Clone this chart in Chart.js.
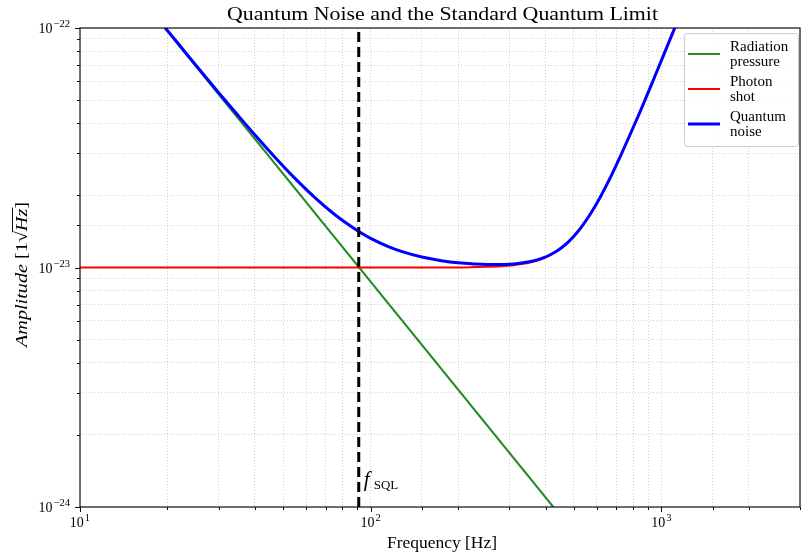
<!DOCTYPE html>
<html>
<head>
<meta charset="utf-8">
<script src="https://cdn.jsdelivr.net/npm/chart.js@4.4.0/dist/chart.umd.min.js"></script>
<style>
  html, body { margin: 0; padding: 0; background: #fff; }
</style>
</head>
<body>
<canvas id="chart" width="801" height="558"></canvas>
<script>
// 放射圧ノイズ (Hz, 振幅)
const rpFreq = [19.6, 425];
const rpAmp = [1e-22, 1e-24];

// 光子ショットノイズ
const shotFreq = [10, 200, 230, 250, 279, 310, 330, 362, 390, 415, 445, 474, 500, 526, 570, 617, 670, 722,
  785, 847, 938, 1020, 1099, 1150];
const shotAmp = [1e-23, 1e-23, 1.0039e-23, 1.0064e-23, 1.0123e-23, 1.0229e-23, 1.0333e-23, 1.0572e-23,
  1.0883e-23, 1.126e-23, 1.186e-23, 1.2626e-23, 1.3483e-23, 1.452e-23, 1.6725e-23, 1.97e-23, 2.394e-23,
  2.905e-23, 3.644e-23, 4.5e-23, 6.05e-23, 7.746e-23, 9.66e-23, 1.106e-22];

// 量子ノイズ合計
const qnFreq = [18, 22, 25, 30, 35, 40, 47, 55, 65, 75, 85, 91, 100, 115, 130, 150, 175, 200, 230, 250, 279,
  310, 330, 362, 390, 415, 445, 474, 500, 526, 570, 617, 670, 722, 785, 847, 938, 1020, 1099, 1150];
const qnAmp = [1.141e-22, 8.47e-23, 7.01e-23, 5.37e-23, 4.31e-23, 3.574e-23, 2.874e-23, 2.351e-23, 1.935e-23,
  1.669e-23, 1.4924e-23, 1.4142e-23, 1.324e-23, 1.223e-23, 1.159e-23, 1.106e-23, 1.068e-23, 1.046e-23,
  1.0343e-23, 1.030e-23, 1.029e-23, 1.0352e-23, 1.0434e-23, 1.065e-23, 1.0942e-23, 1.1308e-23, 1.1896e-23,
  1.2653e-23, 1.3506e-23, 1.4534e-23, 1.6736e-23, 1.971e-23, 2.395e-23, 2.905e-23, 3.644e-23, 4.5e-23,
  6.05e-23, 7.746e-23, 9.66e-23, 1.106e-22];

// SQL周波数
const fSQL = 91;

// 軸の範囲と目盛り
const xRange = [10, 3000];
const yRange = [1e-24, 1e-22];
const xMajor = [10, 100, 1000];
const xMajorExp = ["1", "2", "3"];
const yMajor = [1e-24, 1e-23, 1e-22];
const yMajorExp = ["\u221224", "\u221223", "\u221222"];

const legendLabels = [["Radiation", "pressure"], ["Photon", "shot"], ["Quantum", "noise"]];
const colors = { rp: "#228b22", shot: "#ff0000", qn: "#0000ff" };

const SERIF = '"Liberation Serif", "DejaVu Serif", serif';

function toPoints(xs, ys) {
  return xs.map((x, i) => ({ x: x, y: ys[i] }));
}

function isMajor(v) {
  const m = v / Math.pow(10, Math.floor(Math.log10(v) + 1e-9));
  return Math.abs(m - 1) < 1e-6;
}

// 10^n 形式のラベル
function drawPow(ctx, exp, x, y, align, size) {
  ctx.font = size + "px " + SERIF;
  const wb = ctx.measureText("10").width;
  ctx.font = size * 0.76 + "px " + SERIF;
  const we = ctx.measureText(exp).width;
  const w = wb + we + 1;
  const x0 = align === "right" ? x - w : x - w / 2;
  ctx.textAlign = "left";
  ctx.textBaseline = "alphabetic";
  ctx.font = size + "px " + SERIF;
  ctx.fillText("10", x0, y);
  ctx.font = size * 0.76 + "px " + SERIF;
  ctx.fillText(exp, x0 + wb + 1, y - size * 0.42);
}

// 幅を合わせて中央揃えで描く
function fitText(ctx, text, cx, y, width, font) {
  ctx.font = font;
  const w = ctx.measureText(text).width;
  ctx.save();
  ctx.translate(cx, y);
  ctx.scale(width / w, 1);
  ctx.textAlign = "center";
  ctx.fillText(text, 0, 0);
  ctx.restore();
}

const decor = {
  id: "decor",
  afterDraw(chart) {
    const { ctx, chartArea: a, scales } = chart;
    const xs = scales.x, ys = scales.y;
    ctx.save();
    ctx.fillStyle = "#000";
    ctx.strokeStyle = "#111";

    // 枠線
    ctx.lineWidth = 1.2;
    ctx.strokeRect(a.left, a.top, a.right - a.left, a.bottom - a.top);

    // 目盛り線
    ctx.lineWidth = 1;
    xs.ticks.forEach((t) => {
      const px = Math.round(xs.getPixelForValue(t.value)) + 0.5;
      const len = isMajor(t.value) ? 5 : 3;
      ctx.beginPath();
      ctx.moveTo(px, a.bottom);
      ctx.lineTo(px, a.bottom + len);
      ctx.stroke();
    });
    ys.ticks.forEach((t) => {
      const py = Math.round(ys.getPixelForValue(t.value)) + 0.5;
      const len = isMajor(t.value) ? 5 : 3;
      ctx.beginPath();
      ctx.moveTo(a.left, py);
      ctx.lineTo(a.left - len, py);
      ctx.stroke();
    });

    // 目盛りラベル
    xMajor.forEach((v, i) => {
      drawPow(ctx, xMajorExp[i], xs.getPixelForValue(v), a.bottom + 20, "center", 14);
    });
    yMajor.forEach((v, i) => {
      drawPow(ctx, yMajorExp[i], a.left - 10, ys.getPixelForValue(v) + 5, "right", 14);
    });

    // タイトル
    ctx.textBaseline = "alphabetic";
    fitText(ctx, "Quantum Noise and the Standard Quantum Limit", 442.5, 20, 431, "19px " + SERIF);

    // x軸ラベル
    fitText(ctx, "Frequency [Hz]", 442, 548, 110, "16px " + SERIF);

    // y軸ラベル
    ctx.save();
    ctx.translate(27, 274.5);
    ctx.rotate(-Math.PI / 2);
    const parts = [
      ["Amplitude", "italic 17px " + SERIF],
      [" [1", "17px " + SERIF],
      ["\u221a", "17px " + SERIF],
      ["Hz", "italic 17px " + SERIF],
      ["]", "17px " + SERIF],
    ];
    let total = 0;
    parts.forEach((p) => { ctx.font = p[1]; total += ctx.measureText(p[0]).width; });
    ctx.scale(145 / total, 1);
    let cx = -total / 2;
    ctx.textAlign = "left";
    parts.forEach((p, i) => {
      ctx.font = p[1];
      const w = ctx.measureText(p[0]).width;
      ctx.fillText(p[0], cx, 0);
      if (i === 3) {
        ctx.lineWidth = 1;
        ctx.beginPath();
        ctx.moveTo(cx - 1, -14.5);
        ctx.lineTo(cx + w + 1, -14.5);
        ctx.stroke();
      }
      cx += w;
    });
    ctx.restore();

    // f_SQL
    const sx = xs.getPixelForValue(fSQL);
    ctx.textAlign = "left";
    ctx.font = "italic 21px " + SERIF;
    ctx.fillText("f", sx + 5, 486);
    ctx.font = "13px " + SERIF;
    ctx.fillText("SQL", sx + 15, 489);

    // 凡例
    const lx = 684, ly = 33, lw = 114, lh = 113;
    ctx.fillStyle = "rgba(255,255,255,0.85)";
    ctx.strokeStyle = "#cccccc";
    ctx.lineWidth = 1;
    ctx.beginPath();
    ctx.roundRect(lx + 0.5, ly + 0.5, lw, lh, 3);
    ctx.fill();
    ctx.stroke();
    const lineCols = [colors.rp, colors.shot, colors.qn];
    const lineW = [2, 2, 3];
    legendLabels.forEach((lab, i) => {
      const cy = 54 + i * 35;
      ctx.strokeStyle = lineCols[i];
      ctx.lineWidth = lineW[i];
      ctx.beginPath();
      ctx.moveTo(688, cy);
      ctx.lineTo(720, cy);
      ctx.stroke();
      ctx.fillStyle = "#000";
      ctx.font = "15px " + SERIF;
      ctx.textAlign = "left";
      ctx.fillText(lab[0], 730, cy - 3);
      ctx.fillText(lab[1], 730, cy + 12);
    });
    ctx.restore();
  },
};

const logAxis = (range) => ({
  type: "logarithmic",
  min: range[0],
  max: range[1],
  ticks: { display: false, autoSkip: false },
  grid: { color: "#c4c4c4", lineWidth: 0.8, drawTicks: false },
  border: { display: false, dash: [1, 2] },
});

const xAxis = logAxis(xRange);
xAxis.afterFit = (s) => { s.height = 51; };
const yAxis = logAxis(yRange);
yAxis.afterFit = (s) => { s.width = 80; };

new Chart(document.getElementById("chart"), {
  type: "line",
  data: {
    datasets: [
      {
        label: "Radiation pressure",
        data: toPoints(rpFreq, rpAmp),
        borderColor: colors.rp,
        borderWidth: 2,
        pointRadius: 0,
        order: 4,
      },
      {
        label: "Photon shot",
        data: toPoints(shotFreq, shotAmp),
        borderColor: colors.shot,
        borderWidth: 2,
        pointRadius: 0,
        cubicInterpolationMode: "monotone",
        order: 3,
      },
      {
        label: "Quantum noise",
        data: toPoints(qnFreq, qnAmp),
        borderColor: colors.qn,
        borderWidth: 3,
        pointRadius: 0,
        cubicInterpolationMode: "monotone",
        order: 2,
      },
      {
        label: "SQL",
        data: toPoints([fSQL, fSQL], yRange),
        borderColor: "#000",
        borderWidth: 3,
        borderDash: [10, 5],
        pointRadius: 0,
        order: 1,
      },
    ],
  },
  options: {
    responsive: false,
    animation: false,
    layout: { padding: { top: 28, right: 1, left: 0, bottom: 0 } },
    plugins: { legend: { display: false }, tooltip: { enabled: false } },
    scales: { x: xAxis, y: yAxis },
  },
  plugins: [decor],
});
</script>
</body>
</html>
